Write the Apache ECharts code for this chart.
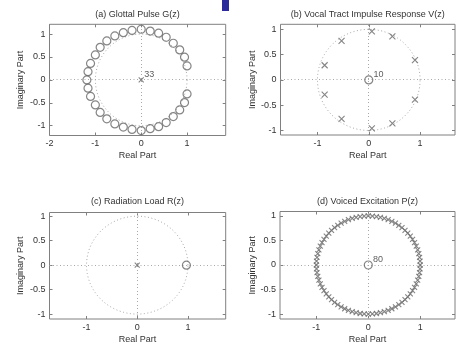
<!DOCTYPE html>
<html>
<head>
<meta charset="utf-8">
<script src="https://cdn.jsdelivr.net/npm/echarts@6/dist/echarts.min.js"></script>
<style>
html, body { margin: 0; padding: 0; background: #fff; }
#chart { width: 456px; height: 345px; }
</style>
</head>
<body>
<div id="chart"></div>
<script>
// panel titles
const panelTitles = [
  '(a) Glottal Pulse G(z)',
  '(b) Vocal Tract Impulse Response V(z)',
  '(c) Radiation Load R(z)',
  '(d) Voiced Excitation P(z)'
];

// tick values per panel
const xTicksA = [-2, -1, 0, 1];
const xTicksOther = [-1, 0, 1];
const yTicks = [-1, -0.5, 0, 0.5, 1];

// (a) glottal pulse: 33 zeros, 33 poles at origin
const glottalZeros = [
  [-1.185, 0],
  [-1.16, 0.18], [-1.105, 0.36], [-1.0, 0.545], [-0.895, 0.71], [-0.75, 0.85],
  [-0.575, 0.96], [-0.39, 1.03], [-0.2, 1.08], [0, 1.105], [0.196, 1.065],
  [0.38, 1.02], [0.545, 0.93], [0.70, 0.80], [0.84, 0.655], [0.945, 0.495], [1.0, 0.305],
  [-1.16, -0.18], [-1.105, -0.36], [-1.0, -0.545], [-0.895, -0.71], [-0.75, -0.85],
  [-0.575, -0.96], [-0.39, -1.03], [-0.2, -1.08], [0, -1.105], [0.196, -1.065],
  [0.38, -1.02], [0.545, -0.93], [0.70, -0.80], [0.84, -0.655], [0.945, -0.495], [1.0, -0.305]
];
const glottalPoles = [[0, 0]];
const glottalPoleCount = '33';

// (b) vocal tract: 10 poles, 10 zeros at origin
const vocalPoles = [
  [0.06, 0.96], [0.46, 0.86], [0.9, 0.39], [-0.53, 0.77], [-0.86, 0.29],
  [0.06, -0.96], [0.46, -0.86], [0.9, -0.39], [-0.53, -0.77], [-0.86, -0.29]
];
const vocalZeros = [[0, 0]];
const vocalZeroCount = '10';

// (c) radiation load: one zero, one pole at origin
const radiationZeros = [[0.97, 0]];
const radiationPoles = [[0, 0]];

// (d) voiced excitation: 80 poles on the unit circle, 80 zeros at origin
const excitationPoleRadius = 1.0;
const excitationPoleAngles = [
  0, 4.5, 9, 13.5, 18, 22.5, 27, 31.5, 36, 40.5, 45, 49.5, 54, 58.5, 63, 67.5,
  72, 76.5, 81, 85.5, 90, 94.5, 99, 103.5, 108, 112.5, 117, 121.5, 126, 130.5, 135, 139.5,
  144, 148.5, 153, 157.5, 162, 166.5, 171, 175.5, 180, 184.5, 189, 193.5, 198, 202.5, 207, 211.5,
  216, 220.5, 225, 229.5, 234, 238.5, 243, 247.5, 252, 256.5, 261, 265.5, 270, 274.5, 279, 283.5,
  288, 292.5, 297, 301.5, 306, 310.5, 315, 319.5, 324, 328.5, 333, 337.5, 342, 346.5, 351, 355.5
];
const excitationZeros = [[0, 0]];
const excitationZeroCount = '80';

const excitationPoles = excitationPoleAngles.map(a => {
  const t = a * Math.PI / 180;
  return [excitationPoleRadius * Math.cos(t), excitationPoleRadius * Math.sin(t)];
});

const textColor = '#333';
const boxColor = '#808080';
const markColor = '#666';
const dotColor = '#a8a8a8';
const dotDash = [1, 2.5];
const dotStep = 3.5;
const xSymbol = 'path://M0,0L10,10M10,0L0,10';

const panels = [
  { grid: { left: 49.5, top: 24.3, width: 176.2, height: 111.2 }, x: [-2, 1.843], y: [-1.213, 1.213], xTicks: xTicksA, yGap: 24 },
  { grid: { left: 280.5, top: 24.3, width: 174.5, height: 110.7 }, x: [-1.72, 1.68], y: [-1.09, 1.1], xTicks: xTicksOther, yGap: 23 },
  { grid: { left: 49.5, top: 212.5, width: 176.2, height: 110.2 }, x: [-1.73, 1.745], y: [-1.10, 1.075], xTicks: xTicksOther, yGap: 24 },
  { grid: { left: 280, top: 211.5, width: 175, height: 111.2 }, x: [-1.70, 1.67], y: [-1.10, 1.09], xTicks: xTicksOther, yGap: 23 }
];

const grids = [];
const xAxes = [];
const yAxes = [];
const titles = [];

panels.forEach((p, i) => {
  grids.push(Object.assign({ show: true, borderColor: boxColor, borderWidth: 1, backgroundColor: 'transparent' }, p.grid));
  titles.push({
    text: panelTitles[i],
    left: p.grid.left + p.grid.width / 2,
    top: i < 2 ? 10 : 197.5,
    textAlign: 'center',
    padding: 0,
    textStyle: { fontFamily: 'Liberation Sans', fontSize: 9, fontWeight: 'normal', color: textColor }
  });
  const tickStyle = { show: true, inside: true, length: 3, lineStyle: { color: boxColor, width: 1 } };
  const noLine = { show: false, onZero: false };
  xAxes.push({
    gridIndex: i, type: 'value', position: 'bottom', min: p.x[0], max: p.x[1],
    axisLine: noLine,
    axisTick: Object.assign({ customValues: p.xTicks }, tickStyle),
    axisLabel: { customValues: p.xTicks, fontFamily: 'Liberation Sans', fontSize: 9, color: textColor, margin: 4 },
    splitLine: { show: false },
    name: 'Real Part', nameLocation: 'middle', nameGap: 16,
    nameTextStyle: { fontFamily: 'Liberation Sans', fontSize: 9, color: textColor }
  });
  xAxes.push({
    gridIndex: i, type: 'value', position: 'top', min: p.x[0], max: p.x[1],
    axisLine: noLine,
    axisTick: Object.assign({ customValues: p.xTicks }, tickStyle),
    axisLabel: { show: false },
    splitLine: { show: false }
  });
  yAxes.push({
    gridIndex: i, type: 'value', position: 'left', min: p.y[0], max: p.y[1],
    axisLine: noLine,
    axisTick: Object.assign({ customValues: yTicks }, tickStyle),
    axisLabel: { customValues: yTicks, fontFamily: 'Liberation Sans', fontSize: 9, color: textColor, margin: 4 },
    splitLine: { show: false },
    name: 'Imaginary Part', nameLocation: 'middle', nameGap: p.yGap,
    nameTextStyle: { fontFamily: 'Liberation Sans', fontSize: 9, color: textColor }
  });
  yAxes.push({
    gridIndex: i, type: 'value', position: 'right', min: p.y[0], max: p.y[1],
    axisLine: noLine,
    axisTick: Object.assign({ customValues: yTicks }, tickStyle),
    axisLabel: { show: false },
    splitLine: { show: false }
  });
});

// dotted unit circle plus dotted real/imaginary axes, drawn through the grid's scales
function unitCircle(i) {
  const p = panels[i];
  return {
    type: 'custom',
    xAxisIndex: i * 2,
    yAxisIndex: i * 2,
    silent: true,
    clip: false,
    data: [[0, 0]],
    renderItem: (params, api) => {
      const pts = [];
      for (let k = 0; k <= 180; k++) {
        const t = k * 2 * Math.PI / 180;
        pts.push(api.coord([Math.cos(t), Math.sin(t)]));
      }
      const h0 = api.coord([p.x[0], 0]);
      const h1 = api.coord([p.x[1], 0]);
      const v0 = api.coord([0, p.y[0]]);
      const v1 = api.coord([0, p.y[1]]);
      const hy = Math.round(h0[1] - 0.5) + 0.5;
      const children = [
        {
          type: 'polyline',
          shape: { points: pts },
          style: { stroke: dotColor, fill: null, lineWidth: 1, lineDash: dotDash }
        },
        {
          type: 'polyline',
          shape: { points: [[h0[0], hy], [h1[0], hy]] },
          style: { stroke: dotColor, fill: null, lineWidth: 1, lineDash: dotDash }
        }
      ];
      // vertical dotted line as 1px dots
      const vx = Math.round(v0[0] - 0.5);
      for (let y = v1[1] + 1; y < v0[1] - 0.5; y += dotStep) {
        children.push({
          type: 'rect',
          shape: { x: vx, y: Math.round(y), width: 1, height: 1 },
          style: { fill: dotColor }
        });
      }
      return { type: 'group', children: children };
    }
  };
}

function zeroSeries(i, data, count, size) {
  return {
    type: 'scatter',
    xAxisIndex: i * 2,
    yAxisIndex: i * 2,
    symbol: 'circle',
    symbolSize: size || 8,
    itemStyle: { color: 'rgba(0,0,0,0)', borderColor: markColor, borderWidth: 1.2 },
    label: count ? {
      show: true, position: 'right', distance: 0, offset: [0, -5],
      formatter: () => count, fontFamily: 'Liberation Sans', fontSize: 9, color: textColor
    } : { show: false },
    data: data
  };
}

function poleSeries(i, data, count, size) {
  return {
    type: 'scatter',
    xAxisIndex: i * 2,
    yAxisIndex: i * 2,
    symbol: xSymbol,
    symbolSize: size || 7,
    itemStyle: { color: 'rgba(0,0,0,0)', borderColor: markColor, borderWidth: 1.1 },
    label: count ? {
      show: true, position: 'right', distance: 0, offset: [0, -5],
      formatter: () => count, fontFamily: 'Liberation Sans', fontSize: 9, color: textColor
    } : { show: false },
    data: data
  };
}

const series = [
  unitCircle(0),
  zeroSeries(0, glottalZeros, null, 8),
  poleSeries(0, glottalPoles, glottalPoleCount, 5),
  unitCircle(1),
  poleSeries(1, vocalPoles, null, 6),
  zeroSeries(1, vocalZeros, vocalZeroCount, 8),
  unitCircle(2),
  poleSeries(2, radiationPoles, null, 5),
  zeroSeries(2, radiationZeros, null, 8),
  unitCircle(3),
  poleSeries(3, excitationPoles, null, 5),
  zeroSeries(3, excitationZeros, excitationZeroCount, 8)
];

const chart = echarts.init(document.getElementById('chart'));
chart.setOption({
  animation: false,
  backgroundColor: '#fff',
  title: titles,
  grid: grids,
  xAxis: xAxes,
  yAxis: yAxes,
  series: series,
  graphic: [
    { type: 'rect', shape: { x: 222, y: 0, width: 7, height: 11 }, style: { fill: '#2b2b9b' }, silent: true }
  ]
});
</script>
</body>
</html>
